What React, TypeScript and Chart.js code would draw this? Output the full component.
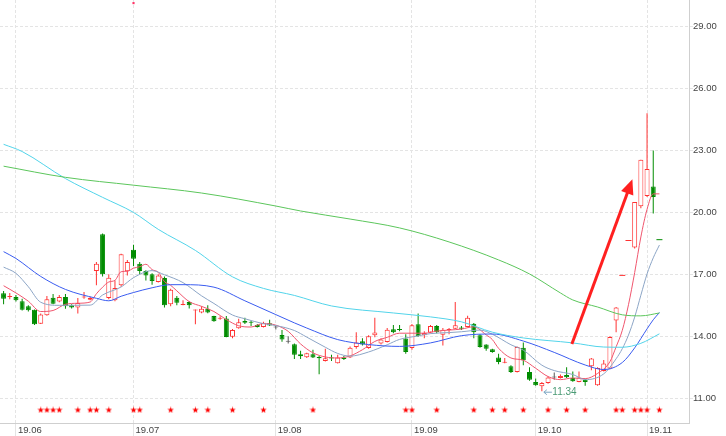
import React, { useEffect, useRef } from "react";
import { Chart, registerables } from "chart.js";

Chart.register(...registerables);

// daily candles: [open, high, low, close], index = trading day
const candles: number[][] = [
  [16.09, 16.2, 15.55, 15.82], [15.9, 16.1, 15.8, 15.95], [15.9, 16.0, 15.68, 15.74], [15.7, 15.82, 15.25, 15.29],
  [15.45, 15.5, 15.2, 15.26], [15.29, 15.3, 14.55, 14.58], [14.61, 15.1, 14.6, 15.05], [15.02, 15.95, 15.0, 15.79],
  [15.87, 16.05, 15.55, 15.58], [15.69, 16.0, 15.65, 15.9], [15.9, 16.05, 15.33, 15.45], [15.5, 15.55, 15.35, 15.39],
  [15.39, 15.85, 15.1, 15.61], [15.88, 16.14, 15.82, 15.9], [15.77, 15.92, 15.75, 15.87], [17.16, 17.6, 16.47, 17.52],
  [18.94, 18.98, 16.9, 17.0], [15.85, 17.0, 15.8, 16.84], [15.74, 16.7, 15.7, 16.34], [16.47, 18.0, 16.4, 17.97],
  [17.15, 17.7, 16.95, 17.6], [18.19, 18.43, 17.4, 17.76], [17.52, 17.6, 17.0, 17.16], [17.16, 17.2, 16.7, 16.95],
  [17.0, 17.05, 16.5, 16.68], [16.63, 17.0, 16.6, 16.95], [16.82, 16.9, 15.4, 15.5], [15.55, 16.3, 15.45, 16.26],
  [15.87, 15.95, 15.5, 15.63], [15.52, 15.75, 15.5, 15.53], [15.66, 15.7, 15.35, 15.5], [15.25, 15.3, 14.58, 15.26],
  [15.15, 15.45, 15.12, 15.34], [15.34, 15.5, 15.12, 15.15], [14.98, 15.0, 14.7, 14.73], [14.85, 14.97, 14.8, 14.86],
  [14.86, 14.98, 13.95, 13.97], [13.98, 14.35, 13.9, 14.3], [14.39, 14.85, 14.37, 14.68], [14.74, 14.9, 14.6, 14.66],
  [14.67, 14.74, 14.5, 14.66], [14.55, 14.6, 14.42, 14.45], [14.45, 14.7, 14.43, 14.66], [14.63, 14.8, 14.5, 14.52],
  [14.43, 14.52, 14.33, 14.43], [14.06, 14.3, 13.73, 13.85], [13.74, 14.0, 13.65, 13.74], [13.61, 13.65, 12.9, 13.1],
  [13.13, 13.3, 12.9, 13.03], [12.98, 13.2, 12.95, 13.18], [13.13, 13.35, 12.95, 12.97], [13.0, 13.05, 12.16, 12.94],
  [12.8, 13.4, 12.78, 12.94], [12.95, 13.1, 12.8, 12.93], [12.7, 13.1, 12.68, 12.97], [12.97, 13.05, 12.85, 12.9],
  [12.97, 13.5, 12.95, 13.45], [13.48, 14.2, 13.4, 13.7], [13.76, 13.9, 13.55, 13.6], [13.43, 14.05, 13.4, 14.0],
  [14.05, 14.9, 13.95, 14.18], [13.65, 13.9, 13.6, 13.84], [13.72, 14.4, 13.7, 14.32], [14.34, 14.55, 14.15, 14.2],
  [14.31, 14.55, 14.25, 14.3], [13.89, 14.1, 13.15, 13.24], [13.43, 14.6, 13.35, 14.53], [14.58, 15.1, 13.98, 14.0],
  [14.05, 14.25, 13.9, 14.16], [14.18, 14.55, 14.15, 14.5], [14.5, 14.55, 14.15, 14.2], [14.08, 14.4, 13.56, 14.32],
  [14.3, 14.4, 14.1, 14.32], [14.37, 15.66, 14.35, 14.53], [14.42, 14.5, 14.3, 14.37], [14.45, 15.0, 14.42, 14.9],
  [14.61, 14.65, 13.9, 14.2], [14.05, 14.1, 13.45, 13.48], [13.6, 13.62, 13.3, 13.4], [13.37, 13.4, 13.2, 13.24],
  [12.97, 13.15, 12.65, 12.76], [12.72, 12.95, 12.7, 12.73], [12.55, 12.6, 12.22, 12.27], [12.27, 13.5, 12.25, 13.48],
  [13.45, 13.7, 12.6, 12.84], [12.27, 12.5, 11.85, 11.9], [11.79, 11.95, 11.6, 11.63], [11.58, 11.78, 11.34, 11.74],
  [11.74, 12.05, 11.7, 12.0], [12.0, 12.25, 11.9, 12.0], [11.98, 12.15, 11.95, 12.08], [12.12, 12.5, 11.98, 12.02],
  [11.98, 12.3, 11.8, 11.82], [11.79, 12.3, 11.77, 12.0], [11.9, 11.93, 11.6, 11.79], [12.55, 12.95, 12.35, 12.92],
  [11.63, 12.5, 11.6, 12.47], [12.32, 12.85, 12.3, 12.68], [12.44, 14.0, 12.4, 13.97], [14.77, 15.42, 14.2, 15.39],
  [16.95, 16.95, 16.95, 16.95], [18.64, 18.64, 18.64, 18.64], [18.3, 20.5, 18.25, 20.5], [20.3, 22.55, 20.2, 22.55],
  [20.8, 24.8, 20.75, 22.1], [21.25, 23.0, 19.95, 20.75], [18.68, 18.68, 18.68, 18.68],
];

// moving averages: [day index, value]
const ma5: number[][] = [
  [0, 16.45], [2, 16.1], [4, 15.7], [6, 15.2], [8, 15.25], [10, 15.55], [12, 15.6], [14, 15.66], [15, 16.06],
  [16, 16.38], [17, 16.63], [18, 16.71], [19, 17.13], [20, 17.15], [21, 17.3], [22, 17.37], [23, 17.49], [24, 17.23],
  [25, 17.1], [26, 16.65], [27, 16.47], [28, 16.2], [30, 15.68], [32, 15.45], [34, 15.2], [36, 14.81], [38, 14.51],
  [40, 14.45], [42, 14.62], [44, 14.54], [46, 14.24], [48, 13.63], [50, 13.2], [52, 13.0], [54, 12.95], [56, 13.05],
  [58, 13.35], [60, 13.75], [62, 13.95], [64, 14.15], [66, 14.15], [68, 14.15], [70, 14.25], [72, 14.3], [74, 14.35],
  [76, 14.46], [78, 14.07], [79, 13.84], [80, 13.42], [82, 12.95], [84, 12.84], [86, 12.45], [88, 12.05], [90, 11.9],
  [92, 11.98], [94, 11.95], [96, 12.2], [98, 12.77], [99, 13.49], [100, 14.29], [101, 15.53], [102, 17.09],
  [103, 18.81], [104, 20.15], [105, 20.9], [106, 20.9],
];
const ma10: number[][] = [
  [0, 17.35], [2, 17.05], [4, 16.4], [6, 15.65], [9, 15.5], [14, 15.51], [16, 16.0], [19, 16.39], [21, 16.84],
  [24, 17.18], [26, 16.98], [29, 16.6], [32, 15.96], [34, 15.59], [37, 15.03], [39, 14.85], [42, 14.61], [44, 14.52],
  [47, 14.28], [49, 13.96], [52, 13.47], [54, 13.17], [56, 13.04], [59, 13.24], [62, 13.59], [64, 13.85], [67, 14.02],
  [69, 14.13], [72, 14.18], [74, 14.22], [77, 14.3], [79, 14.1], [82, 13.59], [84, 13.33], [87, 12.6], [89, 12.34],
  [92, 12.15], [94, 11.9], [97, 12.18], [99, 12.91], [100, 13.4], [101, 14.06], [102, 14.93], [103, 15.99],
  [104, 17.02], [105, 17.8], [106, 18.42],
];
const ma20: number[][] = [
  [0, 18.1], [2, 17.77], [6, 16.9], [10, 16.27], [15, 15.84], [17, 15.72], [19, 15.94], [21, 16.12], [24, 16.35],
  [27, 16.5], [29, 16.5], [34, 16.38], [39, 15.72], [44, 15.05], [47, 14.65], [49, 14.4], [54, 13.84], [59, 13.6],
  [64, 13.51], [69, 13.68], [74, 14.03], [79, 14.11], [84, 13.77], [89, 13.22], [94, 12.61], [97, 12.39],
  [100, 12.73], [102, 13.44], [104, 14.36], [105, 14.8], [106, 15.15],
];
const ma60: number[][] = [
  [0, 23.3], [3, 22.95], [10, 21.64], [16, 20.73], [21, 20.0], [25, 19.18], [31, 18.16], [37, 16.88], [42, 16.32],
  [47, 15.98], [53, 15.47], [63, 15.13], [69, 14.94], [74, 14.7], [79, 14.2], [84, 13.92], [92, 13.68], [97, 13.48],
  [100, 13.47], [103, 13.66], [106, 14.12],
];
const ma120: number[][] = [
  [0, 22.24], [10, 21.7], [21, 21.32], [32, 20.94], [44, 20.31], [48, 20.07], [56, 19.68], [64, 19.25], [72, 18.57],
  [80, 17.7], [85, 17.02], [90, 16.1], [92, 15.76], [96, 15.42], [100, 15.04], [103, 14.99], [106, 15.13],
];

// signal stars along the bottom (day indices)
const signalDays = [6, 7, 8, 9, 12, 14, 15, 17, 21, 22, 27, 31, 33, 37, 42, 50, 65, 66, 70, 76, 79, 81, 84, 88, 91, 94, 99, 100, 102, 103, 104, 106];
const signalLevel = 10.43;

// axis ticks
const monthTickDays = [2, 21, 44, 66, 86, 104];
const monthLabels = ["19.06", "19.07", "19.08", "19.09", "19.10", "19.11"];
const priceTicks = [11, 14, 17, 20, 23, 26, 29];
const xRange = [-0.58, 110.78];
const yRange = [9.8, 30.29];

// annotations
const lowMark = { day: 87, value: 11.34, label: "11.34" };
const arrowFrom = [91.85, 13.63];
const arrowTo = [101.63, 21.61];
const flagMark = [21, 30.14];

const RED = "#ff3232";
const GREEN = "#008c00";
const GRAY = "#555555";

function candleColor(i: number): string {
  const [o, h, l, c] = candles[i];
  if (c > o) return RED;
  if (c < o) return GREEN;
  if (h === l && i > 0) return c >= candles[i - 1][3] ? RED : GREEN;
  return GRAY;
}

function makeStar(): HTMLCanvasElement {
  const cv = document.createElement("canvas");
  cv.width = 7;
  cv.height = 7;
  const g = cv.getContext("2d")!;
  g.fillStyle = "#ff0000";
  g.beginPath();
  for (let k = 0; k < 10; k++) {
    const r = k % 2 === 0 ? 3.4 : 1.4;
    const a = -Math.PI / 2 + (k * Math.PI) / 5;
    const px = 3.5 + r * Math.cos(a);
    const py = 3.6 + r * Math.sin(a);
    if (k === 0) g.moveTo(px, py);
    else g.lineTo(px, py);
  }
  g.closePath();
  g.fill();
  return cv;
}

const annotatePlugin = {
  id: "annotate",
  afterDatasetsDraw(chart: any) {
    const { ctx } = chart;
    const xs = chart.scales.x;
    const ys = chart.scales.y;
    ctx.save();
    // red arrow
    const x1 = xs.getPixelForValue(arrowFrom[0]);
    const y1 = ys.getPixelForValue(arrowFrom[1]);
    const x2 = xs.getPixelForValue(arrowTo[0]);
    const y2 = ys.getPixelForValue(arrowTo[1]);
    const ang = Math.atan2(y2 - y1, x2 - x1);
    const headLen = 15;
    const headW = 6.5;
    const bx = x2 - headLen * Math.cos(ang);
    const by = y2 - headLen * Math.sin(ang);
    ctx.strokeStyle = "#ff2020";
    ctx.fillStyle = "#ff2020";
    ctx.lineWidth = 3;
    ctx.lineCap = "butt";
    ctx.beginPath();
    ctx.moveTo(x1, y1);
    ctx.lineTo(bx + 2 * Math.cos(ang), by + 2 * Math.sin(ang));
    ctx.stroke();
    ctx.beginPath();
    ctx.moveTo(x2, y2);
    ctx.lineTo(bx + headW * Math.sin(ang), by - headW * Math.cos(ang));
    ctx.lineTo(bx - headW * Math.sin(ang), by + headW * Math.cos(ang));
    ctx.closePath();
    ctx.fill();

    // lowest price label
    const lx = xs.getPixelForValue(lowMark.day);
    const ly = ys.getPixelForValue(lowMark.value) + 1;
    ctx.strokeStyle = "#7da6c2";
    ctx.lineWidth = 1;
    ctx.beginPath();
    ctx.moveTo(lx + 2, ly);
    ctx.lineTo(lx + 10, ly);
    ctx.moveTo(lx + 2, ly);
    ctx.lineTo(lx + 5, ly - 2.5);
    ctx.moveTo(lx + 2, ly);
    ctx.lineTo(lx + 5, ly + 2.5);
    ctx.stroke();
    ctx.fillStyle = "#4a9a74";
    ctx.font = "10px 'Liberation Sans', Arial, sans-serif";
    ctx.textBaseline = "middle";
    ctx.textAlign = "left";
    ctx.fillText(lowMark.label, lx + 10.5, ly);
    ctx.restore();
  },
};

export default function App() {
  const ref = useRef<HTMLCanvasElement | null>(null);

  useEffect(() => {
    const canvas = ref.current;
    if (!canvas) return;
    const star = makeStar();

    const wickData: any[] = [];
    const wickColors: string[] = [];
    const bodyData: any[] = [];
    const bodyFill: string[] = [];
    const bodyLine: string[] = [];
    const flatData: any[] = [];
    const flatColors: string[] = [];
    candles.forEach((cd, i) => {
      const [o, h, l, c] = cd;
      const col = candleColor(i);
      if (h === l) {
        flatData.push({ x: i, y: c });
        flatColors.push(col);
        return;
      }
      wickData.push({ x: i, y: [l, h] });
      wickColors.push(col);
      bodyData.push({ x: i, y: [Math.min(o, c), Math.max(o, c)] });
      bodyLine.push(col);
      bodyFill.push(c > o ? "#ffffff" : col);
    });

    const toPts = (arr: number[][]) => arr.map((p) => ({ x: p[0], y: p[1] }));
    const lineDs = (label: string, arr: number[][], color: string) => ({
      type: "line" as const,
      label,
      data: toPts(arr),
      borderColor: color,
      borderWidth: 1,
      pointRadius: 0,
      cubicInterpolationMode: "monotone" as const,
      fill: false,
      order: 0,
    });

    const chart = new Chart(canvas, {
      type: "bar",
      data: {
        datasets: [
          lineDs("MA120", ma120, "#5cc65c"),
          lineDs("MA60", ma60, "#52d4ea"),
          lineDs("MA20", ma20, "#3a5cf0"),
          lineDs("MA10", ma10, "#8ca5c6"),
          lineDs("MA5", ma5, "#f0566e"),
          {
            type: "bar",
            label: "body",
            data: bodyData,
            backgroundColor: bodyFill,
            borderColor: bodyLine,
            borderWidth: 1,
            borderSkipped: false,
            barThickness: 5,
            minBarLength: 1,
            inflateAmount: 0,
            grouped: false,
            order: 1,
          } as any,
          {
            type: "bar",
            label: "wick",
            data: wickData,
            backgroundColor: wickColors,
            borderWidth: 0,
            barThickness: 1,
            inflateAmount: 0,
            grouped: false,
            order: 2,
          } as any,
          {
            type: "scatter",
            label: "flat",
            data: flatData,
            pointStyle: "line",
            pointRadius: 3,
            borderWidth: 1,
            borderColor: flatColors,
            order: 0,
          } as any,
          {
            type: "scatter",
            label: "signal",
            data: signalDays.map((d) => ({ x: d, y: signalLevel })),
            pointStyle: star,
            order: 0,
          } as any,
          {
            type: "scatter",
            label: "flag",
            data: [{ x: flagMark[0], y: flagMark[1] }],
            pointStyle: "rect",
            pointRadius: 1.5,
            backgroundColor: "#ff3366",
            borderColor: "#ff3366",
            borderWidth: 0,
            order: 0,
          } as any,
        ],
      },
      options: {
        responsive: false,
        animation: false,
        devicePixelRatio: 1,
        layout: { padding: 0, autoPadding: false },
        plugins: { legend: { display: false }, tooltip: { enabled: false } },
        events: [],
        scales: {
          x: {
            type: "linear",
            min: xRange[0],
            max: xRange[1],
            offset: false,
            afterBuildTicks: (s: any) => {
              s.ticks = monthTickDays.map((v) => ({ value: v }));
            },
            afterFit: (s: any) => {
              s.height = 13;
              s.paddingLeft = 0;
              s.paddingRight = 0;
            },
            ticks: {
              autoSkip: false,
              maxRotation: 0,
              align: "start",
              labelOffset: 2,
              padding: -11,
              color: "#444444",
              font: { family: "'Liberation Sans', Arial, sans-serif", size: 9.5 },
              callback: (v: any) => {
                const k = monthTickDays.indexOf(Number(v));
                return k >= 0 ? monthLabels[k] : "";
              },
            },
            grid: { offset: false, color: "#e4e4e4", drawTicks: true, tickLength: 13 },
            border: { display: true, color: "#cfcfcf", dash: [3, 2] },
          },
          y: {
            type: "linear",
            position: "right",
            min: yRange[0],
            max: yRange[1],
            afterBuildTicks: (s: any) => {
              s.ticks = priceTicks.map((v) => ({ value: v }));
            },
            afterFit: (s: any) => {
              s.width = 37;
              s.paddingTop = 0;
              s.paddingBottom = 0;
            },
            ticks: {
              padding: 0,
              color: "#444444",
              font: { family: "'Liberation Sans', Arial, sans-serif", size: 9.5 },
              callback: (v: any) => Number(v).toFixed(2),
            },
            grid: { color: "#e4e4e4", drawTicks: true, tickLength: 4 },
            border: { display: true, color: "#cfcfcf", dash: [3, 2] },
          },
        },
      } as any,
      plugins: [annotatePlugin],
    });
    return () => chart.destroy();
  }, []);

  return (
    <div style={{ position: "absolute", left: 0, top: 0, width: 726, height: 436, background: "#ffffff" }}>
      <canvas ref={ref} width={726} height={436} style={{ display: "block", width: 726, height: 436 }} />
    </div>
  );
}
